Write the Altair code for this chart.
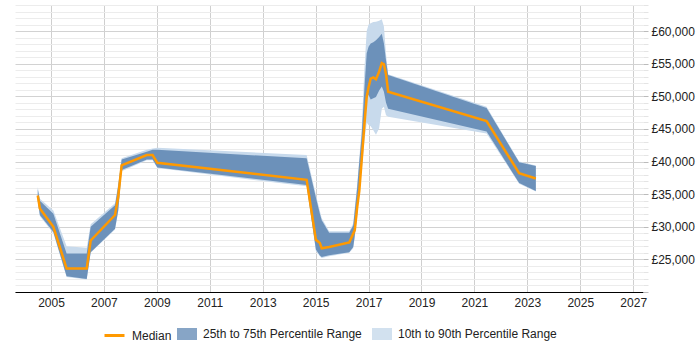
import altair as alt
import pandas as pd

# Salary percentiles over time (decimal years)
years = [2004.50, 2004.58, 2005.09, 2005.59, 2006.35, 2006.50, 2007.42, 2007.54, 2007.67,
         2008.62, 2008.84, 2009.02, 2014.66, 2015.01, 2015.16, 2015.23, 2015.51, 2016.27,
         2016.42, 2016.48, 2016.57, 2016.65, 2016.74, 2016.84, 2016.93, 2017.00, 2017.08,
         2017.18, 2017.28, 2017.40, 2017.50, 2017.58, 2017.66, 2017.74, 2021.46, 2022.69,
         2023.32]
p10 = [33900, 31600, 29000, 22300, 21900, 26000, 29600, 32300, 38500,
       40200, 40200, 39000, 36200, 26300, 25500, 25200, 25500, 26000,
       26700, 28400, 31500, 35500, 38500, 43000, 46000, 45600, 45400,
       44800, 44100, 45100, 48100, 48400, 47100, 46850, 44300, 36600,
       35400]
p25 = [34000, 31800, 29200, 22400, 22000, 26100, 29700, 32500, 38700,
       40300, 40300, 39100, 36400, 26500, 25600, 25350, 25650, 26100,
       26900, 28700, 32000, 36500, 39500, 46000, 50500, 50200, 49500,
       49700, 49900, 50900, 51500, 50700, 49000, 48100, 44600, 36700,
       35500]
median = [34800, 32800, 30000, 23600, 23600, 27900, 31800, 34600, 39400,
          41000, 41000, 39800, 37200, 28000, 27500, 26700, 26900, 27600,
          28950, 29500, 33000, 35500, 40200, 45500, 49900, 51400, 52700,
          52900, 52600, 53800, 55100, 54900, 53400, 50700, 46200, 38200,
          37400]
p75 = [35800, 34000, 32000, 25900, 25900, 30000, 33300, 36300, 40300,
       41500, 41800, 41800, 40500, 34500, 32000, 31000, 29100, 29100,
       30200, 32500, 36000, 40000, 44000, 51000, 56600, 57600, 58100,
       58300, 58600, 59100, 59600, 58100, 55500, 53250, 48200, 39900,
       39300]
p90 = [36100, 34300, 32500, 27000, 26800, 30400, 33600, 36600, 40500,
       41800, 42000, 42100, 41000, 34900, 32400, 31300, 29300, 29300,
       30500, 33000, 36500, 40500, 45000, 54000, 60000, 61000, 61200,
       61400, 61450, 61600, 61800, 60700, 56500, 53400, 48400, 40000,
       39400]

year_ticks = list(range(2005, 2028, 2))
salary_ticks = list(range(20000, 64001, 1000))

df = pd.DataFrame({"year": years, "p10": p10, "p25": p25, "median": median,
                   "p75": p75, "p90": p90})

MEDIAN = "Median"
IQR = "25th to 75th Percentile Range"
DECILE = "10th to 90th Percentile Range"

FONT = "Liberation Sans"
TEXT = "#222222"

line_scale = alt.Scale(domain=[MEDIAN], range=["#ff9900"])
band_scale = alt.Scale(domain=[IQR, DECILE], range=["#6c91ba", "#c8daec"])

# Both legends sit in one row under the plot: the median entry first, then the two bands
LEGEND_Y = 319
line_legend = alt.Legend(
    orient="none",
    legendX=88,
    legendY=LEGEND_Y,
    title=None,
    symbolType="stroke",
    symbolSize=400,
    symbolStrokeWidth=3,
    labelFont=FONT,
    labelFontSize=12,
    labelColor=TEXT,
    labelOffset=6,
)
band_legend = alt.Legend(
    orient="none",
    legendX=162,
    legendY=LEGEND_Y,
    title=None,
    direction="horizontal",
    symbolType="M-1,-0.6H1V0.6H-1Z",
    symbolSize=400,
    symbolOpacity=0.82,
    symbolStrokeWidth=0,
    labelFont=FONT,
    labelFontSize=12,
    labelColor=TEXT,
    labelOffset=6,
    columnPadding=10,
)

x_enc = alt.X(
    "year:Q",
    scale=alt.Scale(domain=[2003.64, 2027.37], nice=False, zero=False),
    axis=alt.Axis(
        values=year_ticks,
        format="d",
        title=None,
        grid=True,
        gridColor="#cfcfcf",
        ticks=False,
        domainColor="#000000",
        labelPadding=5,
        labelFont=FONT,
        labelFontSize=12,
        labelColor=TEXT,
    ),
)

y_scale = alt.Scale(domain=[20000, 64000], nice=False, zero=False)
y_axis = alt.Axis(
    orient="right",
    values=salary_ticks,
    title=None,
    grid=True,
    gridColor=alt.condition("datum.value % 5000 === 0", alt.value("#d2d2d2"), alt.value("#ececec")),
    tickColor=alt.condition("datum.value % 5000 === 0", alt.value("#bbbbbb"), alt.value("#e4e4e4")),
    tickSize=5,
    domain=False,
    labelPadding=3,
    labelExpr="datum.value % 5000 === 0 && datum.value > 20000 ? '£' + format(datum.value, ',') : ''",
    labelFont=FONT,
    labelFontSize=12,
    labelColor=TEXT,
)

base = alt.Chart(df)

decile_band = base.transform_calculate(series="'" + DECILE + "'").mark_area(opacity=1).encode(
    x=x_enc,
    y=alt.Y("p10:Q", scale=y_scale, axis=y_axis),
    y2="p90:Q",
    fill=alt.Fill("series:N", scale=band_scale, legend=band_legend),
)

iqr_band = base.transform_calculate(series="'" + IQR + "'").mark_area(opacity=1).encode(
    x=x_enc,
    y=alt.Y("p25:Q", scale=y_scale, axis=y_axis),
    y2="p75:Q",
    fill=alt.Fill("series:N", scale=band_scale, legend=band_legend),
)

median_line = base.transform_calculate(series="'" + MEDIAN + "'").mark_line(strokeWidth=2.5).encode(
    x=x_enc,
    y=alt.Y("median:Q", scale=y_scale, axis=y_axis),
    color=alt.Color("series:N", scale=line_scale, legend=line_legend),
)

chart = (
    alt.layer(decile_band, iqr_band, median_line)
    .properties(
        width=628,
        height=287,
        autosize=alt.AutoSizeParams(type="none"),
        padding={"left": 15, "top": 5, "right": 57, "bottom": 58},
        background="#ffffff",
    )
    .configure_view(stroke=None)
)

chart.save("out.html", embed_options={"renderer": "svg", "actions": False})
